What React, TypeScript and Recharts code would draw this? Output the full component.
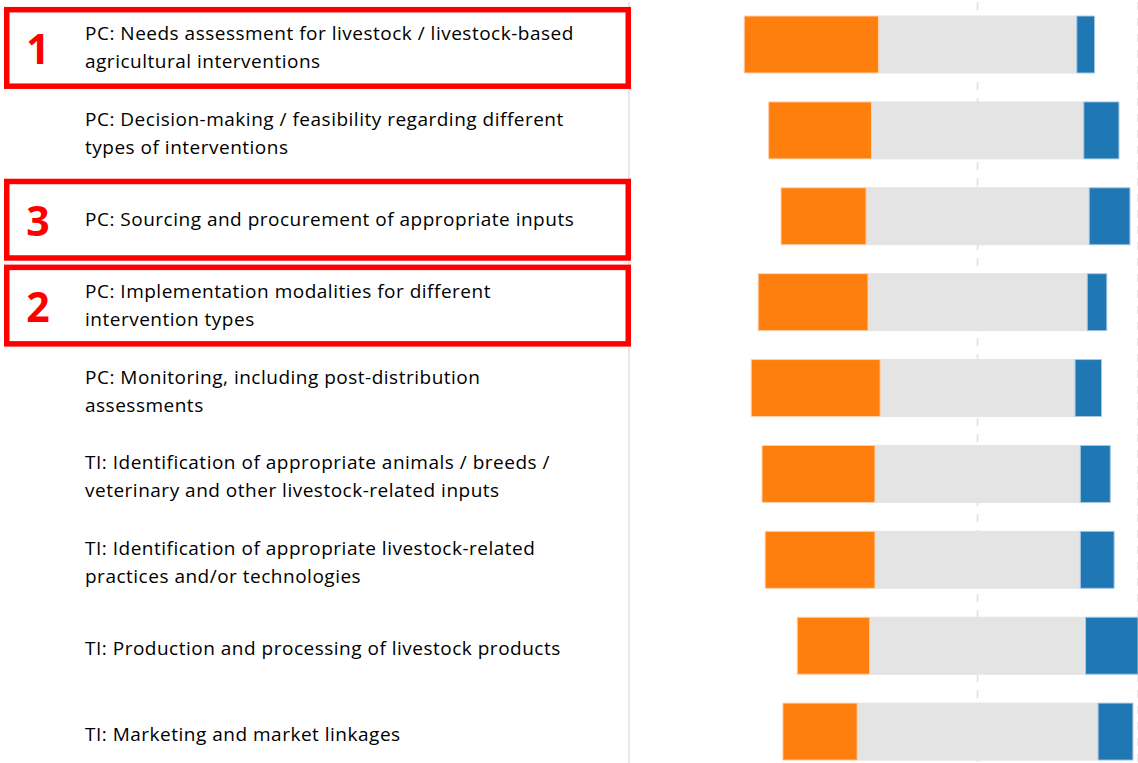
import React from 'react';
import {Bar, BarChart, CartesianGrid, XAxis, YAxis} from 'recharts';

// categories (top to bottom), "\n" marks the line break used in the labels
const CATEGORIES = [
  'PC: Needs assessment for livestock / livestock-based\nagricultural interventions',
  'PC: Decision-making / feasibility regarding different\ntypes of interventions',
  'PC: Sourcing and procurement of appropriate inputs',
  'PC: Implementation modalities for different\nintervention types',
  'PC: Monitoring, including post-distribution\nassessments',
  'TI: Identification of appropriate animals / breeds /\nveterinary and other livestock-related inputs',
  'TI: Identification of appropriate livestock-related\npractices and/or technologies',
  'TI: Production and processing of livestock products',
  'TI: Marketing and market linkages',
];

// red ranking boxes, '' = no box
const RANKS = ['1', '', '3', '2', '', '', '', '', ''];

// share of answers (%) per category
const LOW = [38.5, 29.5, 24.4, 31.5, 37.0, 32.4, 31.5, 20.8, 21.3];
const NEUTRAL = [56.9, 60.9, 64.0, 62.9, 55.9, 58.9, 58.9, 61.9, 69.1];
const HIGH = [5.1, 10.1, 11.7, 5.6, 7.6, 8.6, 9.7, 17.3, 10.0];

const ORANGE = '#ff7f0e';
const BLUE = '#1f77b4';
const GREY = '#e4e4e4';

const chartData = CATEGORIES.map((name, i) => ({
  name,
  // neutral block is split around zero so the chart diverges from its middle
  neutralLeft: -NEUTRAL[i] / 2,
  low: -LOW[i],
  neutralRight: NEUTRAL[i] / 2,
  high: HIGH[i],
}));

const LabelTick = (props: any) => {
  const {y, payload, index} = props;
  const lines: string[] = String(payload.value).split('\n');
  const rank = RANKS[index];
  const firstBaseline = lines.length > 1 ? y - 5 : y + 9;
  return (
    <g>
      {rank && (
        <g>
          <rect x={6.75} y={y + 3 - 41 + 2.75} width={621.5} height={76.5}
                fill="none" stroke="#ff0000" strokeWidth={5.5} />
          <text x={38} y={y + 19} textAnchor="middle" fill="#ff0000"
                fontSize={41} fontWeight="bold" fontFamily="'Open Sans', sans-serif">
            {rank}
          </text>
        </g>
      )}
      <text x={85} y={firstBaseline} fill="#000" fontSize={19} letterSpacing={0.5}
            fontFamily="'Open Sans', sans-serif">
        {lines.map((line, k) => (
          <tspan key={k} x={85} dy={k === 0 ? 0 : 28}>{line}</tspan>
        ))}
      </text>
    </g>
  );
};

export default function App() {
  return (
    <div style={{position: 'absolute', left: 0, top: 0, width: 1138, height: 763, overflow: 'hidden', background: '#fff'}}>
      <BarChart
        width={1138}
        height={775}
        data={chartData}
        layout="vertical"
        stackOffset="sign"
        margin={{top: 2, right: 0, bottom: 0, left: 0}}
      >
        <CartesianGrid horizontal={false} stroke="#e6e6e6" strokeWidth={2} strokeDasharray="8 8" />
        <XAxis type="number" domain={[-100, 46]} allowDataOverflow ticks={[0]} hide />
        <YAxis
          type="category"
          dataKey="name"
          width={629}
          interval={0}
          axisLine={{stroke: '#e8e8e8', strokeWidth: 2}}
          tickLine={false}
          tick={<LabelTick />}
        />
        <Bar dataKey="neutralLeft" stackId="a" fill={GREY} stroke={GREY} strokeWidth={1} barSize={57} isAnimationActive={false} />
        <Bar dataKey="low" stackId="a" fill={ORANGE} stroke="#ffd2ad" strokeWidth={1} barSize={57} isAnimationActive={false} />
        <Bar dataKey="neutralRight" stackId="a" fill={GREY} stroke={GREY} strokeWidth={1} barSize={57} isAnimationActive={false} />
        <Bar dataKey="high" stackId="a" fill={BLUE} stroke="#a9c8e0" strokeWidth={1} barSize={57} isAnimationActive={false} />
      </BarChart>
    </div>
  );
}
